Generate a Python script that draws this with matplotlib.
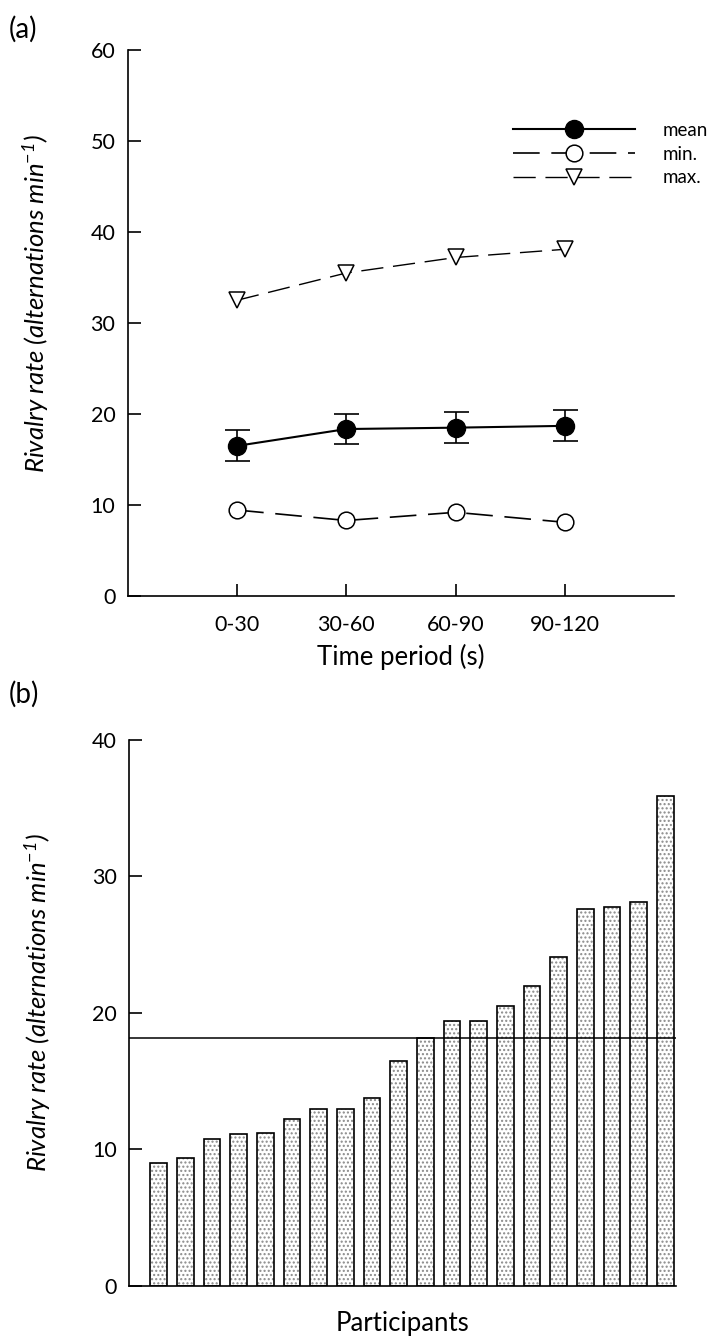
import matplotlib
matplotlib.use("Agg")
import matplotlib.pyplot as plt
from matplotlib.lines import Line2D
import numpy as np

plt.rcParams["font.family"] = ["Lato", "DejaVu Sans"]
plt.rcParams["mathtext.fontset"] = "custom"
plt.rcParams["mathtext.it"] = "Lato:italic"
plt.rcParams["mathtext.rm"] = "Lato:italic"

# panel (a): rivalry rate per time period
periods = ["0-30", "30-60", "60-90", "90-120"]
mean_rate = [16.5, 18.35, 18.5, 18.7]
mean_err = [1.7, 1.65, 1.7, 1.7]
min_rate = [9.45, 8.3, 9.2, 8.1]
max_rate = [32.5, 35.5, 37.2, 38.1]

# panel (b): rate per participant (sorted)
participant_rate = [9.0, 9.4, 10.8, 11.1, 11.2, 12.2, 13.0, 13.0, 13.75, 16.5,
                    18.2, 19.4, 19.4, 20.5, 22.0, 24.1, 27.65, 27.75, 28.1, 35.9]
group_mean = 18.2

ylab = r"Rivalry rate (alternations min$^{-1}$)"

fig = plt.figure(figsize=(7.18, 13.4), dpi=100)
ax1 = fig.add_axes([0.178, 0.5552, 0.761, 0.4075])
ax2 = fig.add_axes([0.180, 0.0403, 0.7615, 0.4075])

def style(ax):
    for s in ["top", "right"]:
        ax.spines[s].set_visible(False)
    for s in ["left", "bottom"]:
        ax.spines[s].set_linewidth(1.2)
    ax.tick_params(direction="in", length=9, width=1.2, labelsize=15.5, pad=9)

# ---- (a)
x = np.arange(1, len(periods) + 1)
dash = (0, (16, 7))
ax1.errorbar(x, mean_rate, yerr=mean_err, color="k", lw=1.5, marker="o",
             ms=13, mfc="k", capsize=9, capthick=1.2, elinewidth=1.2)
ax1.plot(x, min_rate, color="k", lw=1.2, linestyle=dash, marker="o", ms=12,
         mfc="white", mec="k", mew=1.1)
ax1.plot(x, max_rate, color="k", lw=1.0, linestyle=dash, marker="v", ms=12,
         mfc="white", mec="k", mew=1.1)
ax1.set_xlim(0, 5)
ax1.set_ylim(0, 60)
ax1.set_xticks(x)
ax1.set_xticklabels(periods)
ax1.set_yticks(np.arange(0, 61, 10))
style(ax1)
ax1.tick_params(axis="x", pad=14)
ax1.set_xlabel("Time period (s)", fontsize=18.5, labelpad=6)
ax1.set_ylabel(ylab, fontsize=18.5, style="italic")
ax1.yaxis.set_label_coords(-0.14, 0.535)

handles = [
    Line2D([], [], color="k", lw=1.5, marker="o", ms=13, mfc="k"),
    Line2D([], [], color="k", lw=1.2, linestyle=dash, marker="o", ms=12,
           mfc="white", mec="k", mew=1.1),
    Line2D([], [], color="k", lw=1.0, linestyle=dash, marker="v", ms=12,
           mfc="white", mec="k", mew=1.1),
]
ax1.legend(handles, ["mean", "min.", "max."], loc="upper left",
           bbox_to_anchor=(0.705, 0.868), frameon=False, borderpad=0,
           borderaxespad=0, handlelength=6.5, numpoints=1, fontsize=13.5,
           labelspacing=0.35, handletextpad=1.5)
fig.text(0.012, 0.988, "(a)", fontsize=20, va="top")

# ---- (b)
xb = np.arange(1, len(participant_rate) + 1)
ax2.bar(xb, participant_rate, width=0.62, color="white", edgecolor="#8a8a8a",
        hatch="....", lw=0, zorder=2)
ax2.bar(xb, participant_rate, width=0.62, fill=False, edgecolor="k", lw=1.2, zorder=3)
ax2.axhline(group_mean, color="k", lw=1.1, zorder=4)
ax2.set_xlim(-0.1, 20.4)
ax2.set_ylim(0, 40)
ax2.set_xticks([])
ax2.set_yticks(np.arange(0, 41, 10))
style(ax2)
ax2.set_xlabel("Participants", fontsize=18.5, labelpad=18)
ax2.set_ylabel(ylab, fontsize=18.5, style="italic")
ax2.yaxis.set_label_coords(-0.14, 0.52)
fig.text(0.012, 0.492, "(b)", fontsize=20, va="top")

fig.savefig("out.png", dpi=100)
